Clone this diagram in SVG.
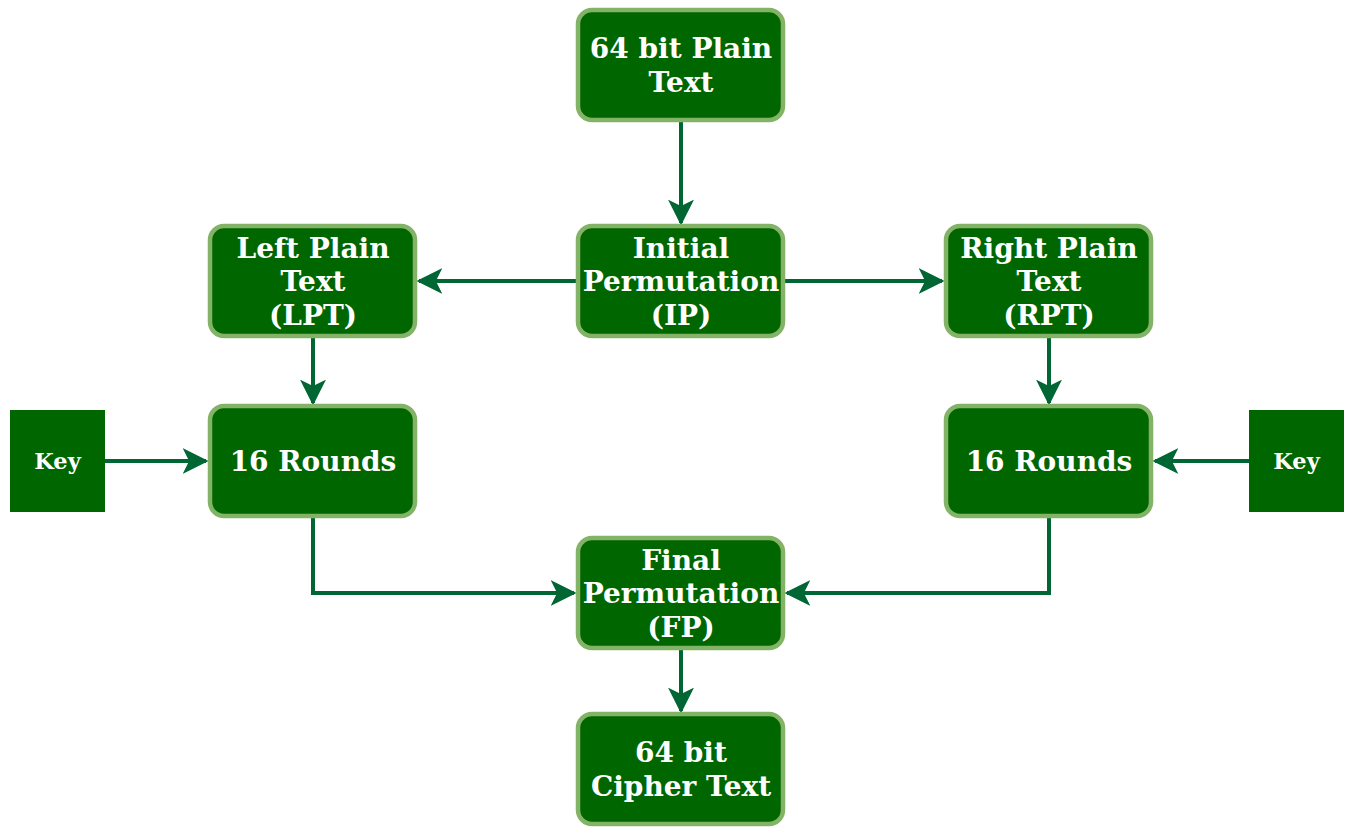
<svg xmlns="http://www.w3.org/2000/svg" width="1355" height="835" viewBox="0 0 1355 835">
<style>
.box{fill:#006600;stroke:#82b366;stroke-width:4.5}
.key{fill:#006600}
.t{font-family:"DejaVu Serif",serif;font-weight:bold;font-size:28px;fill:#ffffff;text-anchor:middle}
.k{font-family:"DejaVu Serif",serif;font-weight:bold;font-size:22.5px;fill:#ffffff;text-anchor:middle}
.c{fill:none;stroke:#006633;stroke-width:4;marker-end:url(#ah)}
</style>
<defs>
<marker id="ah" viewBox="0 0 10 10" refX="9" refY="5" markerWidth="6.500" markerHeight="6.500" orient="auto" markerUnits="strokeWidth">
<path d="M0,0 L10,5 L0,10 L2.500,5 Z" fill="#006633"/>
</marker>
</defs>
<rect width="1355" height="835" fill="#ffffff"/>
<g id="connectors">
<path class="c" d="M681,121 L681,223"/>
<path class="c" d="M577,281 L419,281"/>
<path class="c" d="M784,281 L942,281"/>
<path class="c" d="M313,337 L313,403"/>
<path class="c" d="M1049,337 L1049,403"/>
<path class="c" d="M105,461 L206,461"/>
<path class="c" d="M1249,461 L1155,461"/>
<path class="c" d="M313,517 L313,593 L574,593"/>
<path class="c" d="M1049,517 L1049,593 L787,593"/>
<path class="c" d="M681,649 L681,711"/>
</g>
<g id="plain">
<rect class="box" x="578" y="10" width="205" height="110" rx="14"/>
<text class="t" x="681" y="58">64 bit Plain</text>
<text class="t" x="681" y="92">Text</text>
</g>
<g id="ip">
<rect class="box" x="578" y="226" width="205" height="110" rx="14"/>
<text class="t" x="681" y="258">Initial</text>
<text class="t" x="681" y="291">Permutation</text>
<text class="t" x="681" y="325">(IP)</text>
</g>
<g id="lpt">
<rect class="box" x="210" y="226" width="205" height="110" rx="14"/>
<text class="t" x="313" y="258">Left Plain</text>
<text class="t" x="313" y="291">Text</text>
<text class="t" x="313" y="325">(LPT)</text>
</g>
<g id="rpt">
<rect class="box" x="946" y="226" width="205" height="110" rx="14"/>
<text class="t" x="1049" y="258">Right Plain</text>
<text class="t" x="1049" y="291">Text</text>
<text class="t" x="1049" y="325">(RPT)</text>
</g>
<g id="rounds-left">
<rect class="box" x="210" y="406" width="205" height="110" rx="14"/>
<text class="t" x="313" y="471">16 Rounds</text>
</g>
<g id="rounds-right">
<rect class="box" x="946" y="406" width="205" height="110" rx="14"/>
<text class="t" x="1049" y="471">16 Rounds</text>
</g>
<g id="key-left">
<rect class="key" x="10" y="410" width="95" height="102"/>
<text class="k" x="57.500" y="469">Key</text>
</g>
<g id="key-right">
<rect class="key" x="1249" y="410" width="95" height="102"/>
<text class="k" x="1296.500" y="469">Key</text>
</g>
<g id="fp">
<rect class="box" x="578" y="538" width="205" height="110" rx="14"/>
<text class="t" x="681" y="570">Final</text>
<text class="t" x="681" y="603">Permutation</text>
<text class="t" x="681" y="637">(FP)</text>
</g>
<g id="cipher">
<rect class="box" x="578" y="714" width="205" height="110" rx="14"/>
<text class="t" x="681" y="762">64 bit</text>
<text class="t" x="681" y="796">Cipher Text</text>
</g>
</svg>
